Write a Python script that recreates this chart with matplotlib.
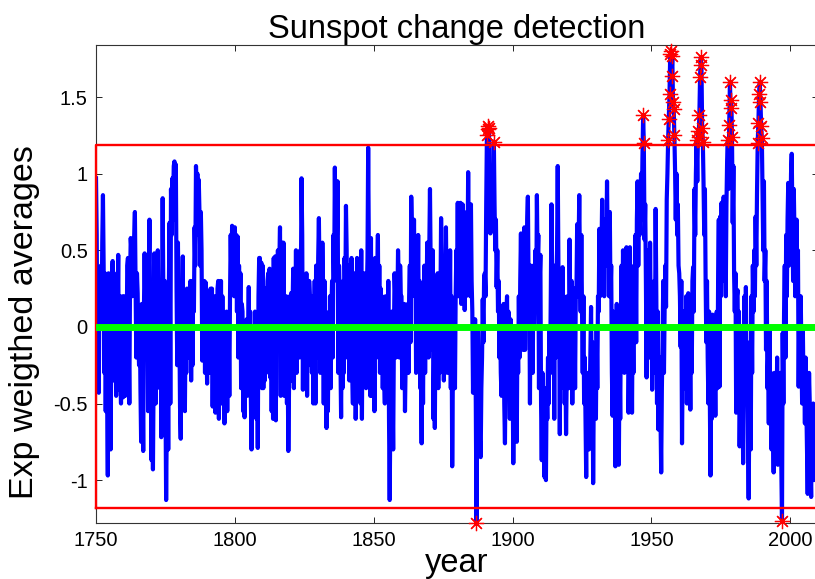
import numpy as np
import matplotlib
matplotlib.use("Agg")
import matplotlib.pyplot as plt

plt.rcParams.update({
    "font.family": ["Liberation Sans", "DejaVu Sans"],
    "font.size": 14.5,
})

# exponentially weighted averages of the sunspot series, four samples per year from 1750
start_year = 1750
samples_per_year = 4
ewma = [
    0.97, 0.60, -0.24, 0.31, -0.43, 0.35, 0.05, 0.40, 0.00, 0.55, 0.86, 0.40, -0.30, 0.35, -0.55, 0.20, -0.40, -0.97, 0.35, -0.20,
    0.30, -0.80, -0.10, 0.35, 0.43, -0.35, 0.35, -0.30, 0.15, -0.45, 0.30, 0.05, 0.47, -0.41, 0.20, -0.30, -0.50, 0.00, 0.20, -0.46,
    -0.30, 0.20, -0.45, 0.10, -0.20, 0.40, 0.45, -0.10, -0.50, 0.30, 0.58, 0.50, 0.20, 0.55, 0.30, 0.60, 0.75, 0.30, -0.20, 0.35,
    0.22, -0.10, -0.25, 0.10, -0.40, -0.75, 0.15, -0.30, -0.81, 0.10, 0.48, 0.15, 0.35, -0.20, 0.40, -0.55, 0.35, 0.70, 0.10, -0.40,
    -0.87, 0.20, -0.93, -0.30, 0.48, 0.30, -0.50, 0.45, 0.20, 0.50, -0.10, 0.30, -0.40, 0.30, -0.72, 0.10, 0.84, 0.20, -0.55, 0.30,
    -0.40, -1.13, -0.60, 0.15, -0.80, 0.30, 0.68, -0.50, 0.90, 0.60, 0.97, 0.80, 1.05, 1.08, 0.70, 1.06, 0.25, -0.25, 0.55, 0.10,
    0.05, -0.52, -0.73, 0.10, -0.30, 0.46, -0.51, 0.20, -0.55, 0.00, -0.30, 0.25, 0.24, -0.20, 0.15, -0.10, 0.30, -0.35, 0.20, -0.25,
    0.30, 0.10, 0.65, 0.40, 1.05, 0.85, 1.00, 0.60, 0.96, 0.75, 0.40, 0.75, 0.50, -0.22, 0.10, -0.15, 0.30, -0.30, 0.29, -0.05,
    -0.37, 0.20, -0.20, 0.15, -0.30, 0.25, -0.10, 0.25, -0.52, 0.10, -0.30, 0.20, -0.56, 0.00, -0.45, 0.25, 0.30, -0.60, 0.10, -0.40,
    0.30, -0.50, 0.20, -0.30, -0.20, -0.63, 0.05, -0.40, 0.10, -0.55, -0.10, 0.05, -0.45, 0.20, 0.60, 0.30, 0.66, 0.40, 0.55, 0.20,
    0.65, 0.35, 0.60, 0.10, 0.59, -0.20, 0.40, -0.10, 0.35, -0.40, 0.15, 0.10, -0.55, -0.20, -0.59, 0.00, -0.30, 0.05, -0.45, -0.10,
    0.26, -0.30, 0.10, -0.45, -0.80, -0.30, 0.00, -0.35, -0.45, 0.10, -0.30, -0.60, -0.20, -0.79, 0.20, 0.45, 0.45, -0.10, 0.42, -0.40,
    0.40, -0.40, 0.10, -0.35, 0.25, -0.30, 0.10, 0.30, 0.35, -0.20, 0.38, -0.33, 0.20, -0.55, 0.10, -0.60, 0.45, -0.20, 0.46, -0.61,
    0.20, -0.10, 0.50, 0.05, 0.40, 0.65, -0.45, 0.30, 0.55, -0.10, 0.55, -0.45, 0.10, -0.30, 0.20, -0.50, -0.20, -0.81, -0.40, 0.20,
    -0.20, 0.22, -0.35, 0.10, 0.38, -0.40, 0.20, -0.10, 0.50, -0.30, 0.45, 0.20, 0.30, -0.20, 0.50, 0.25, 0.97, 0.60, -0.41, 0.30,
    0.30, -0.40, 0.10, 0.35, -0.45, 0.20, -0.10, 0.30, 0.20, -0.25, 0.10, -0.30, 0.20, -0.50, -0.10, 0.30, -0.50, 0.40, 0.10, -0.20,
    0.45, 0.71, 0.30, -0.30, 0.43, -0.10, 0.55, 0.20, -0.50, 0.30, -0.20, 0.10, -0.66, -0.20, -0.55, 0.00, -0.30, 0.20, -0.40, 0.10,
    0.30, -0.20, 0.60, 0.30, 1.04, 0.50, 0.95, 0.60, 0.95, -0.30, 0.40, 0.20, -0.20, -0.59, 0.10, -0.40, 0.30, -0.30, 0.45, 0.10,
    0.79, 0.50, -0.20, 0.40, 0.30, -0.35, 0.20, -0.10, 0.45, -0.30, -0.50, 0.20, -0.20, 0.35, -0.60, -0.30, 0.45, -0.20, 0.40, 0.10,
    0.40, -0.50, 0.50, -0.60, 0.20, -0.30, 0.35, -0.10, 0.30, -0.40, 0.20, 0.45, 1.17, 0.50, 0.10, -0.45, 0.58, -0.45, 0.20, -0.10,
    0.30, -0.55, 0.45, -0.20, 0.10, 0.30, 0.60, -0.20, 0.40, -0.30, 0.25, -0.10, 0.20, -0.40, 0.10, -0.30, -0.50, 0.20, -0.30, 0.10,
    -0.40, 0.30, -0.60, -1.13, -0.50, -0.20, 0.10, -0.40, -0.80, -0.10, 0.35, 0.20, -0.20, 0.30, 0.10, 0.50, 0.30, -0.20, 0.40, 0.20,
    0.20, -0.40, 0.10, -0.20, 0.15, -0.55, -0.20, 0.10, -0.30, 0.15, -0.30, 0.20, 0.40, -0.10, 0.85, 0.60, 0.55, 0.30, 0.70, 0.20,
    0.50, -0.30, 0.45, 0.10, 0.60, -0.10, 0.30, -0.40, -0.30, -0.76, 0.10, -0.50, 0.20, 0.40, -0.30, 0.20, 0.10, 0.55, 0.30, -0.20,
    0.50, 0.90, 0.40, 0.20, -0.15, 0.50, -0.60, -0.20, -0.66, 0.10, -0.40, 0.20, 0.35, -0.40, 0.20, -0.30, 0.10, 0.71, 0.40, -0.20,
    0.30, -0.35, 0.20, -0.10, 0.65, 0.20, -0.30, 0.10, 0.35, -0.10, 0.50, -0.40, 0.20, -0.91, -0.30, 0.10, -0.10, -0.40, 0.20, 0.50,
    0.30, 0.81, 0.20, 0.78, 0.40, 0.81, 0.15, 0.60, 0.80, 0.30, 0.70, 0.11, 0.50, 0.20, 0.75, 0.40, 1.01, 0.50, 0.80, 0.20,
    0.80, 0.30, 0.10, -0.43, 0.00, -0.30, 0.05, -0.50, -1.28, -0.20, 0.00, -0.74, -0.30, -0.74, -0.85, -0.40, -0.20, 0.18, -0.10, 0.33,
    0.35, 0.20, 0.80, 1.25, 1.31, 1.29, 1.30, 0.90, 0.61, 0.95, 0.70, 1.00, 0.85, 1.21, 0.80, 0.50, 0.70, 0.26, 0.50, 0.10,
    0.30, -0.20, 0.10, -0.30, -0.45, 0.00, -0.30, 0.15, -0.50, -0.76, -0.20, 0.10, 0.20, -0.30, 0.10, -0.20, -0.60, 0.05, -0.20, -0.50,
    -0.30, -0.89, -0.40, 0.00, -0.60, -0.20, -0.75, 0.00, -0.30, 0.20, -0.20, 0.30, 0.61, 0.10, 0.40, -0.15, 0.50, 0.65, -0.15, 0.30,
    0.20, 0.70, 0.85, 0.30, 0.40, -0.50, 0.40, -0.20, 0.20, -0.30, 0.40, 0.00, 0.20, 0.50, 0.10, 0.86, 0.40, 0.60, -0.40, 0.30,
    0.47, -0.50, -0.87, -0.30, -0.85, -0.40, -0.98, -0.50, -1.00, -0.40, -0.60, -0.20, -0.50, 0.00, -0.30, 0.20, 0.80, 0.20, -0.30, 0.30,
    -0.60, 0.40, -0.20, 0.30, 0.50, 1.05, 0.40, 0.20, -0.70, 0.20, -0.40, 0.10, 0.39, -0.30, 0.20, -0.50, -0.20, -0.70, -0.30, 0.20,
    0.20, -0.40, 0.57, 0.10, -0.20, 0.30, -0.50, 0.10, -0.30, 0.25, -0.40, 0.20, 0.25, 0.67, 0.20, 0.50, 0.86, 0.40, 0.10, 0.60,
    0.10, -0.30, 0.20, -0.50, -0.20, -0.60, -0.98, -0.40, -0.70, -0.30, -0.80, -0.50, -0.20, 0.13, -0.40, -0.10, -1.02, -0.40, -0.60, -0.20,
    -0.60, 0.00, -0.40, 0.20, 0.10, 0.64, 0.20, 0.40, 0.50, 0.83, 0.30, 0.60, 0.20, 0.70, 0.40, 0.50, 0.95, 0.50, 0.75, 0.20,
    0.75, 0.20, 0.40, -0.30, -0.58, 0.10, -0.40, -0.20, -0.91, -0.30, 0.15, -0.50, -0.40, -0.90, -0.20, -0.60, 0.10, 0.40, -0.20, 0.50,
    0.30, -0.30, 0.45, 0.10, 0.52, -0.20, 0.30, -0.56, -0.20, 0.52, -0.30, 0.10, -0.56, 0.20, -0.30, 0.40, 0.20, 0.60, -0.10, 0.70,
    0.95, 0.40, 0.85, 0.60, 0.80, 1.00, 0.70, 1.10, 1.38, 1.20, 0.57, 0.80, 0.30, -0.33, 0.50, 0.10, 0.30, -0.20, 0.55, 0.00,
    0.20, -0.41, 0.10, -0.30, 0.30, -0.20, 0.77, 0.20, -0.50, 0.10, -0.67, -0.30, -0.20, -0.60, -0.95, -0.40, -0.10, 0.30, -0.30, 0.13,
    0.40, 0.13, 0.83, 1.00, 1.22, 1.36, 1.52, 1.78, 1.80, 1.64, 1.77, 1.47, 1.42, 1.25, 1.02, 0.70, 1.00, 0.60, 0.80, 0.40,
    0.35, 0.20, -0.13, 0.30, -0.76, -0.20, 0.10, -0.40, 0.10, -0.30, 0.20, -0.50, -0.20, 0.22, -0.50, -0.10, -0.54, 0.10, -0.30, 0.30,
    0.39, 0.10, 0.90, 0.60, 1.00, 1.22, 0.95, 1.28, 1.24, 1.38, 1.63, 1.76, 1.71, 1.30, 1.21, 0.94, 0.60, 0.90, 0.30, -0.10,
    0.30, -0.20, -0.50, 0.10, -0.40, -0.97, -0.30, -0.60, 0.08, -0.40, 0.00, -0.30, -0.58, -0.20, 0.10, -0.40, 0.30, 0.70, -0.39, 0.72,
    0.20, 0.81, 0.40, 0.60, 0.85, 0.30, 0.60, 0.20, 0.80, 1.09, 1.22, 0.90, 1.32, 1.60, 1.43, 1.48, 1.24, 0.68, 1.05, 0.35,
    0.10, 0.35, -0.56, 0.20, 0.24, -0.40, 0.10, -0.78, -0.40, -0.10, -0.60, 0.00, -0.89, -0.30, 0.20, -0.50, 0.26, -0.40, -0.10, -0.70,
    -1.12, -0.50, -0.20, -0.80, 0.20, -0.30, 0.40, 0.10, 0.50, 0.20, 0.72, 0.40, 0.87, 1.20, 1.33, 1.52, 1.60, 1.47, 1.31, 1.23,
    0.87, 0.50, 0.95, 0.30, 0.50, -0.15, 0.30, -0.40, -0.20, -0.63, 0.00, -0.50, -0.30, -0.80, -0.40, -0.60, -0.95, -0.30, -0.70, -0.50,
    -0.74, -0.20, -0.90, -0.40, -0.50, -0.80, -0.30, -0.90, -1.27, -0.04, -0.50, 0.10, 0.40, -0.20, 0.60, 0.20, 0.70, 0.94, 0.40, 0.80,
    0.60, 1.00, 1.13, 0.70, 0.30, 0.90, 0.60, 0.20, 0.48, 0.70, 0.30, 0.50, -0.39, 0.10, -0.20, 0.20, -0.20, -0.50, 0.00, -0.40,
    -0.30, -0.63, -0.20, -0.50, -0.80, -1.09, -0.60, -0.30, -0.50, -0.90, -1.11, -0.60, -0.80, -0.50, -1.00, -0.60, -0.75, -0.60, -0.90, -0.65,
]
threshold = 1.185
y_ticks = [-1, -0.5, 0, 0.5, 1, 1.5]
x_ticks = [1750, 1800, 1850, 1900, 1950, 2000]

vals = np.array(ewma)
years = start_year + np.arange(len(vals)) / samples_per_year
out = np.abs(vals) > threshold

fig = plt.figure(figsize=(8.15, 5.79), dpi=100)
ax = fig.add_axes([0.1178, 0.0967, 0.886, 0.8256])

ax.plot(years, vals, color=(0, 0, 1), lw=3.0, zorder=2)
# threshold box (left side sits on the axis line, so don't clip it)
ax.plot([years[0], years[0], years[-1], years[-1], years[0]],
        [-threshold, threshold, threshold, -threshold, -threshold],
        color=(1, 0, 0), lw=1.7, zorder=3, clip_on=False)
ax.plot([years[0], years[-1]], [0, 0], color=(0, 1, 0), lw=5.0, zorder=4)
ax.plot(years[out], vals[out], ls="none", marker=(8, 2, 0), ms=11, mew=0.9,
        color=(1, 0, 0), zorder=5, clip_on=False)

ax.set_xlim(1750, 2010)
ax.set_ylim(-1.28, 1.84)
ax.set_xticks(x_ticks)
ax.set_yticks(y_ticks)
ax.set_yticklabels(["-1", "-0.5", "0", "0.5", "1", "1.5"])
ax.tick_params(direction="in", length=4, width=0.6, top=True, right=True, pad=6)
for s in ax.spines.values():
    s.set_linewidth(0.8)
    s.set_color("#333333")

ax.set_title("Sunspot change detection", fontsize=23.5, pad=5)
ax.set_xlabel("year", fontsize=23.5, labelpad=-2)
ax.set_ylabel("Exp weigthed averages", fontsize=24.5)
ax.yaxis.set_label_coords(-0.078, 0.42)

fig.savefig("out.png", dpi=100)
